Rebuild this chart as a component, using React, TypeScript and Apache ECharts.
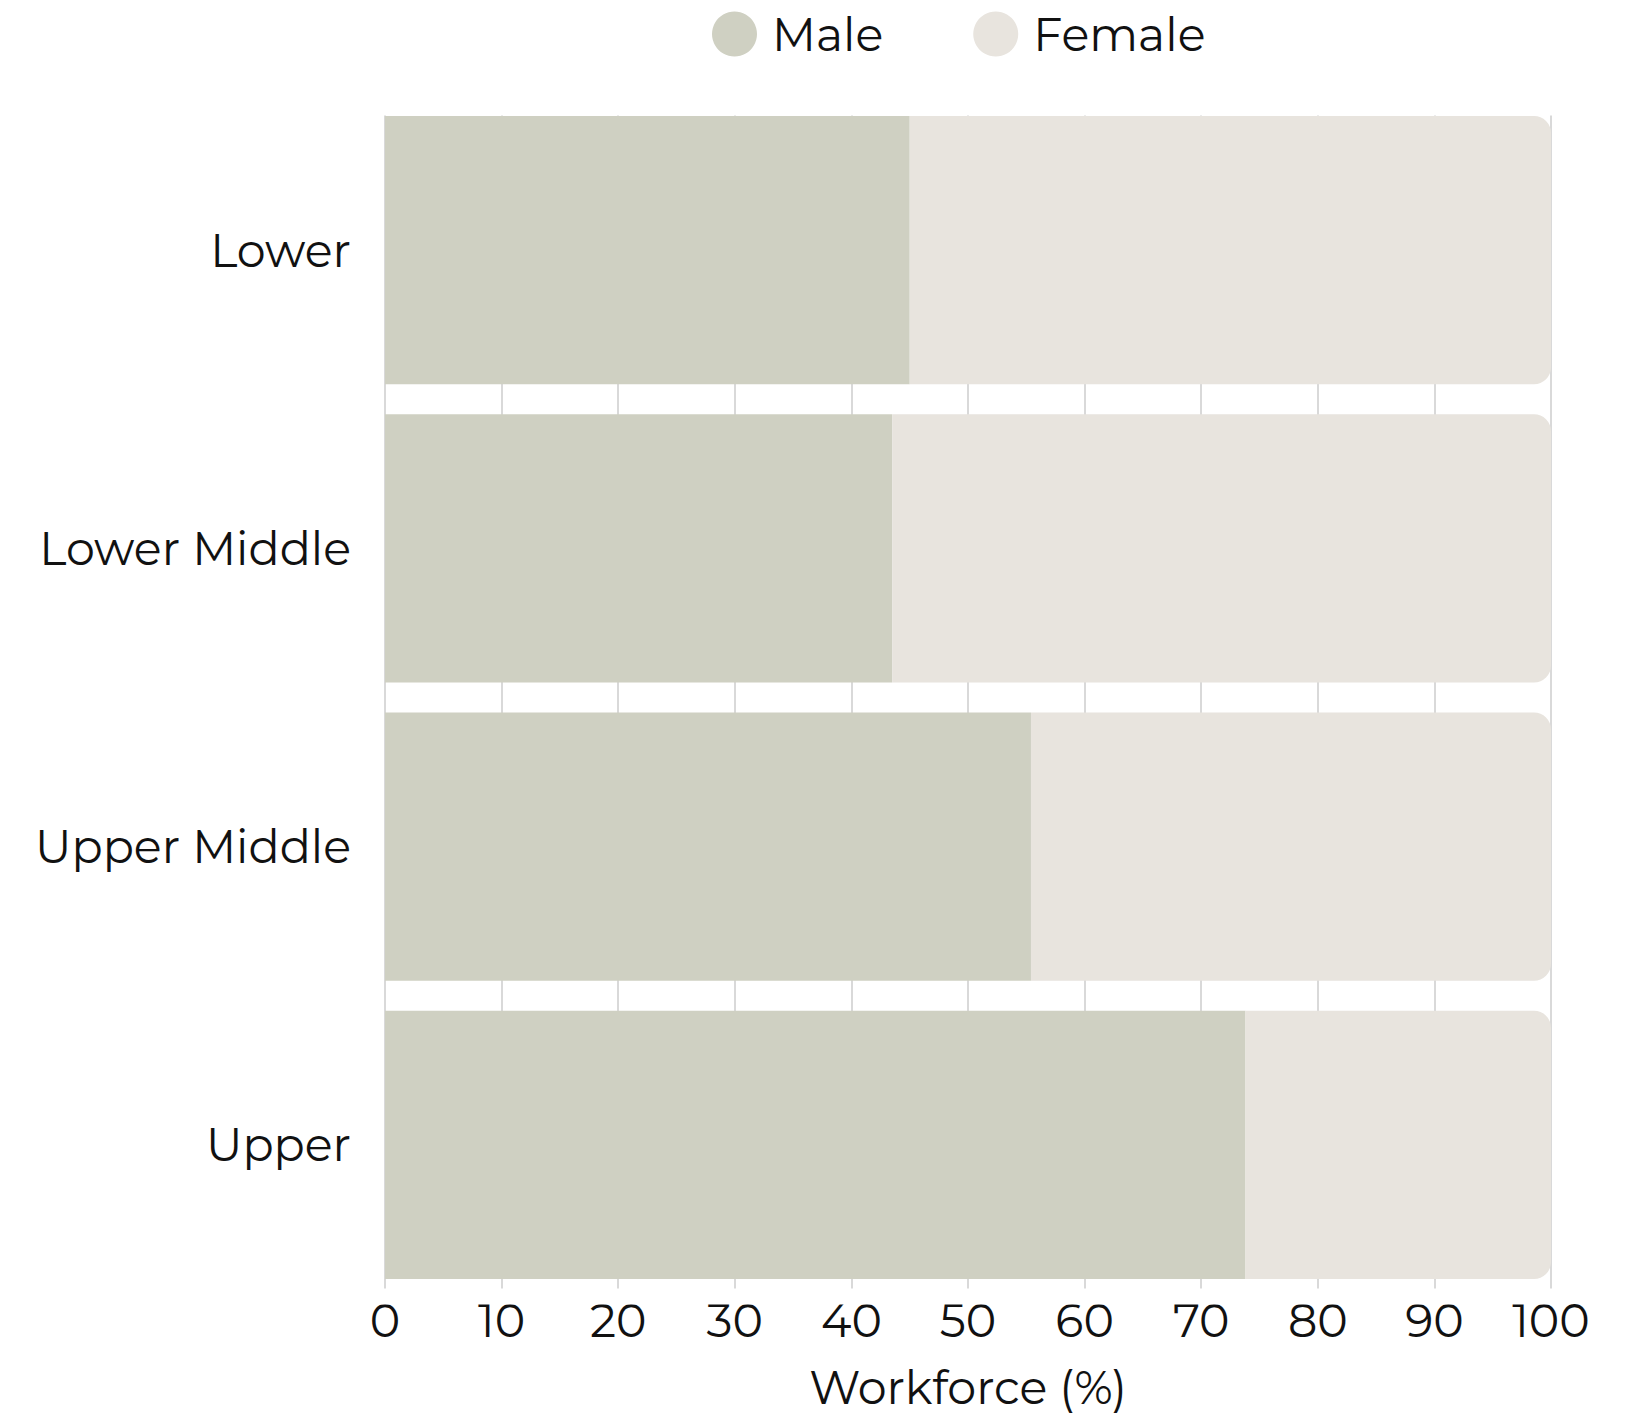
import React, { useEffect, useRef } from "react";
import * as echarts from "echarts";

const categories = ["Lower", "Lower Middle", "Upper Middle", "Upper"];
const maleValues = [45, 43.5, 55.4, 73.8];
const femaleValues = [55, 56.5, 44.6, 26.2];
const xTicks = { min: 0, max: 100, interval: 10 };
const seriesNames = ["Male", "Female"];
const colors = ["#cfd0c2", "#e8e4de"];

const FONT = "Montserrat, 'Noto Sans', sans-serif";
const FS = 46;
const GRID_TOP = 101;
const GRID_BOTTOM = 112;
const CHART_H = 1415;

export default function App() {
  const ref = useRef<HTMLDivElement>(null);
  useEffect(() => {
    if (!ref.current) return;
    const chart = echarts.init(ref.current, null, { renderer: "svg" });
    const plotH = CHART_H - GRID_TOP - GRID_BOTTOM;
    const halfGap = (plotH / categories.length) * 0.05;
    chart.setOption({
      animation: false,
      backgroundColor: "#ffffff",
      textStyle: { fontFamily: FONT },
      legend: {
        top: 6,
        left: 707,
        icon: "circle",
        itemWidth: 45,
        itemHeight: 45,
        itemGap: 90,
        data: seriesNames,
        textStyle: { fontSize: FS, color: "#111", fontFamily: FONT, padding: [0, 0, 0, 10] },
      },
      grid: { left: 385, right: 78, top: GRID_TOP, bottom: GRID_BOTTOM, containLabel: false },
      graphic: [
        { type: "rect", z: 10, shape: { x: 375, y: GRID_TOP - 10, width: 1190, height: 10 + halfGap - 0.5 }, style: { fill: "#ffffff" } },
        { type: "rect", z: 10, shape: { x: 375, y: CHART_H - GRID_BOTTOM - halfGap + 0.5, width: 1190, height: halfGap + 1 }, style: { fill: "#ffffff" } },
      ],
      xAxis: {
        type: "value",
        min: xTicks.min,
        max: xTicks.max,
        interval: xTicks.interval,
        name: "Workforce (%)",
        nameLocation: "middle",
        nameGap: 70,
        nameTextStyle: { fontSize: FS, color: "#111", fontFamily: FONT },
        axisLine: { show: false },
        axisTick: { show: false },
        axisLabel: { fontSize: FS, color: "#111", margin: 3, fontFamily: FONT },
        splitLine: { show: true, lineStyle: { color: "#cccccc", width: 1.5 } },
      },
      yAxis: {
        type: "category",
        data: categories,
        inverse: true,
        axisLine: { show: false },
        axisTick: { show: false },
        splitLine: { show: false },
        axisLabel: { fontSize: FS, color: "#111", margin: 34, fontFamily: FONT },
      },
      series: [
        {
          name: seriesNames[0],
          type: "bar",
          stack: "total",
          data: maleValues,
          barCategoryGap: "10%",
          itemStyle: { color: colors[0] },
        },
        {
          name: seriesNames[1],
          type: "bar",
          stack: "total",
          data: femaleValues,
          barCategoryGap: "10%",
          itemStyle: { color: colors[1], borderRadius: [0, 17, 17, 0] },
        },
      ],
    });
    return () => chart.dispose();
  }, []);
  return (
    <div
      ref={ref}
      style={{ position: "fixed", left: 0, top: 0, width: 1629, height: CHART_H }}
    />
  );
}
